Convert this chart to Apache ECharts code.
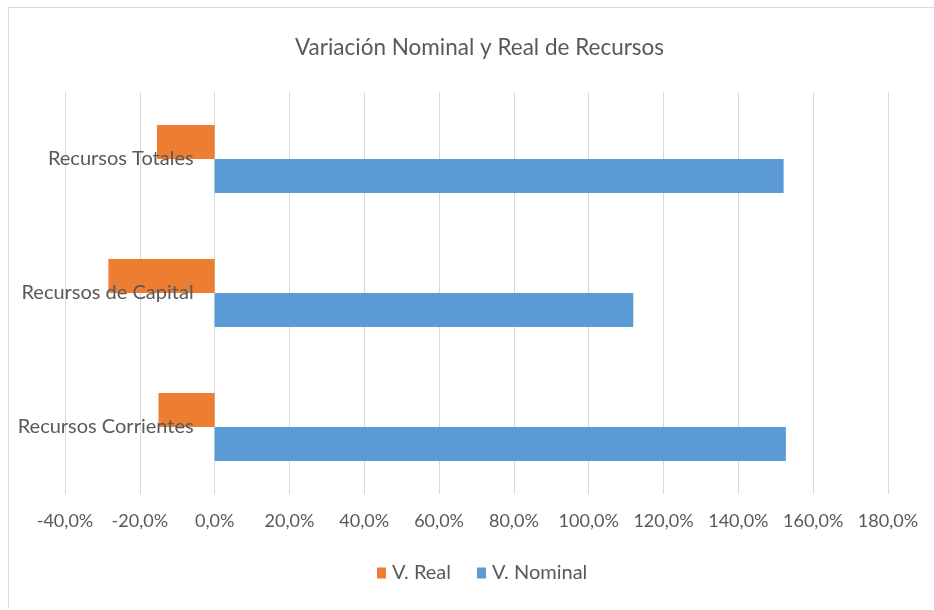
<!DOCTYPE html>
<html>
<head>
<meta charset="utf-8">
<script src="https://cdn.jsdelivr.net/npm/echarts@6/dist/echarts.min.js"></script>
<style>
  html, body { margin: 0; padding: 0; background: #fff; }
  #frame { position: absolute; left: 8px; top: 7px; width: 940px; height: 600px;
           border-left: 1px solid #d9d9d9; border-top: 1px solid #d9d9d9; }
  #chart { position: absolute; left: 0; top: 0; width: 934px; height: 610px; }
</style>
</head>
<body>
<div id="frame"></div>
<div id="chart"></div>
<script>
// categories bottom -> top (category axis on y grows upward)
const categories = ['Recursos Corrientes', 'Recursos de Capital', 'Recursos Totales']
const realValues = [-15.0, -28.4, -15.4]
const nominalValues = [152.7, 111.9, 152.1]
const xTicks = { min: -40, max: 180, step: 20 }

const FONT = 'Lato'
const TEXT = '#595959'
const GRID_LEFT = 65
const GRID_RIGHT = 46

const chart = echarts.init(document.getElementById('chart'))

function pct(v) {
  return v.toFixed(1).replace('.', ',') + '%'
}

// put the category axis on the 0% line, like the original
const plotW = 934 - GRID_LEFT - GRID_RIGHT
const zeroOffset = plotW * (0 - xTicks.min) / (xTicks.max - xTicks.min)

chart.setOption({
  animation: false,
  title: {
    text: 'Variación Nominal y Real de Recursos',
    left: 290,
    top: 31,
    textStyle: { fontFamily: FONT, fontSize: 22.5, fontWeight: 'normal', color: TEXT }
  },
  legend: {
    bottom: 22,
    left: 372,
    icon: 'rect',
    itemWidth: 9,
    itemHeight: 11,
    itemGap: 26,
    textStyle: { fontFamily: FONT, fontSize: 20, color: TEXT, padding: [0, 0, 0, 1] }
  },
  grid: { left: GRID_LEFT, right: GRID_RIGHT, top: 92, bottom: 116, outerBoundsMode: 'none', containLabel: false },
  xAxis: {
    type: 'value',
    min: xTicks.min,
    max: xTicks.max,
    interval: xTicks.step,
    axisLine: { show: false },
    axisTick: { show: false },
    axisLabel: { formatter: pct, fontFamily: FONT, fontSize: 18, color: TEXT, margin: 18 },
    splitLine: { show: true, lineStyle: { color: '#d9d9d9', width: 1 } }
  },
  yAxis: {
    type: 'category',
    data: categories,
    position: 'left',
    offset: -zeroOffset,
    z: 10,
    axisLine: { show: false, onZero: false },
    axisTick: { show: false },
    axisLabel: { fontFamily: FONT, fontSize: 20, color: TEXT, margin: 21 },
    splitLine: { show: false }
  },
  series: [
    {
      name: 'V. Real',
      type: 'bar',
      data: realValues,
      barWidth: 34,
      barGap: '0%',
      itemStyle: { color: '#ed7d31' }
    },
    {
      name: 'V. Nominal',
      type: 'bar',
      data: nominalValues,
      barWidth: 34,
      barGap: '0%',
      itemStyle: { color: '#5b9bd5' }
    }
  ]
})
</script>
</body>
</html>
